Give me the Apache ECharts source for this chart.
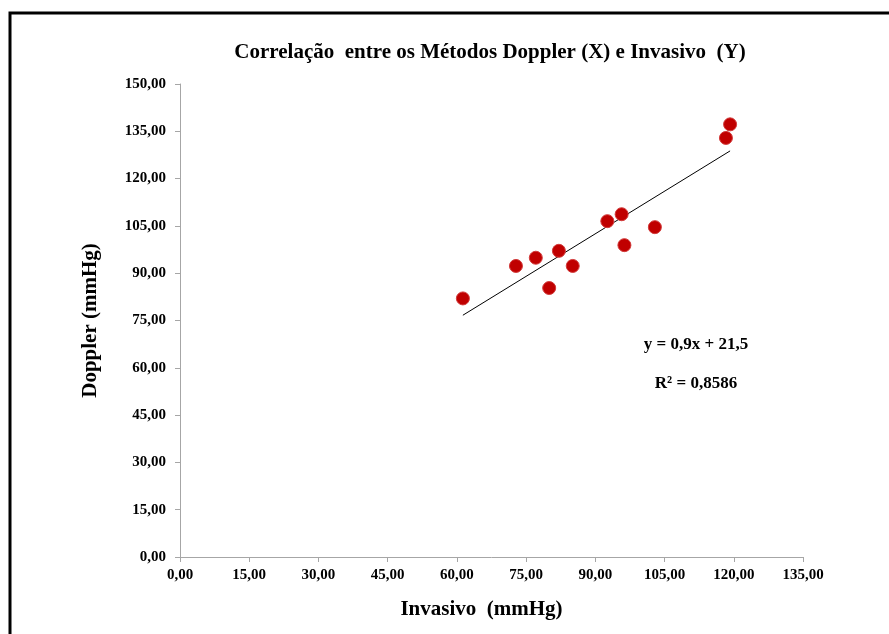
<!DOCTYPE html>
<html>
<head>
<meta charset="utf-8">
<script src="https://cdn.jsdelivr.net/npm/echarts@6/dist/echarts.min.js"></script>
<style>html,body{margin:0;padding:0;background:#fff;}#c{width:889px;height:634px;}</style>
</head>
<body>
<div id="c"></div>
<script>
var invasivo = [61.3, 72.8, 77.1, 82.1, 80.0, 85.1, 92.6, 95.7, 96.3, 102.9, 118.3, 119.2];
var doppler  = [82.0, 92.3, 94.9, 97.1, 85.3, 92.3, 106.5, 108.7, 98.9, 104.6, 132.9, 137.2];
var slope = 0.9, intercept = 21.5;
var eqText = 'y = 0,9x + 21,5';
var r2Text = 'R² = 0,8586';

var pts = invasivo.map(function(x, i){ return [x, doppler[i]]; });
var xMin = Math.min.apply(null, invasivo), xMax = Math.max.apply(null, invasivo);
var trend = [[xMin, slope*xMin+intercept], [xMax, slope*xMax+intercept]];

var font = '"Liberation Serif", "Times New Roman", serif';
function fmt(v){ return v.toFixed(2).replace('.', ','); }

var chart = echarts.init(document.getElementById('c'));
chart.setOption({
  animation: false,
  backgroundColor: '#fff',
  title: {
    text: 'Correlação  entre os Métodos Doppler (X) e Invasivo  (Y)',
    left: 485, top: 37, textAlign: 'center',
    textStyle: {fontFamily: font, fontWeight: 'bold', fontSize: 21, color: '#000'}
  },
  grid: {left: 180, right: 86, top: 84, bottom: 77},
  xAxis: {
    type: 'value', min: 0, max: 135, interval: 15,
    name: 'Invasivo  (mmHg)', nameLocation: 'middle', nameGap: 42,
    nameTextStyle: {fontFamily: font, fontWeight: 'bold', fontSize: 21, color: '#000', padding: [0, 20, 0, 0]},
    axisLine: {show: true, lineStyle: {color: '#a6a6a6', width: 1}},
    axisTick: {show: true, length: 5, lineStyle: {color: '#a6a6a6'}},
    axisLabel: {formatter: fmt, fontFamily: font, fontWeight: 'bold', fontSize: 15, color: '#000', margin: 11},
    splitLine: {show: false}
  },
  yAxis: {
    type: 'value', min: 0, max: 150, interval: 15,
    name: 'Doppler (mmHg)', nameLocation: 'middle', nameGap: 79,
    nameTextStyle: {fontFamily: font, fontWeight: 'bold', fontSize: 21, color: '#000'},
    axisLine: {show: true, lineStyle: {color: '#a6a6a6', width: 1}},
    axisTick: {show: true, length: 5, lineStyle: {color: '#a6a6a6'}},
    axisLabel: {formatter: fmt, fontFamily: font, fontWeight: 'bold', fontSize: 15, color: '#000', margin: 14},
    splitLine: {show: false}
  },
  series: [
    {
      type: 'line', data: trend, symbol: 'none', silent: true,
      lineStyle: {color: '#000', width: 1}, z: 1
    },
    {
      type: 'scatter', data: pts, symbol: 'circle', symbolSize: 13,
      itemStyle: {color: '#c00000', borderColor: '#d23a3a', borderWidth: 1, opacity: 1}, z: 2
    }
  ],
  graphic: [
    {type: 'rect', shape: {x: 10, y: 13, width: 1000, height: 1000}, style: {fill: 'none', stroke: '#000', lineWidth: 3}, silent: true},
    {type: 'text', x: 696, y: 345, style: {text: eqText, fontFamily: font, fontWeight: 'bold', fontSize: 17, fill: '#000', textAlign: 'center', textVerticalAlign: 'middle'}},
    {type: 'text', x: 696, y: 384, style: {text: r2Text, fontFamily: font, fontWeight: 'bold', fontSize: 17, fill: '#000', textAlign: 'center', textVerticalAlign: 'middle'}}
  ]
});
</script>
</body>
</html>
